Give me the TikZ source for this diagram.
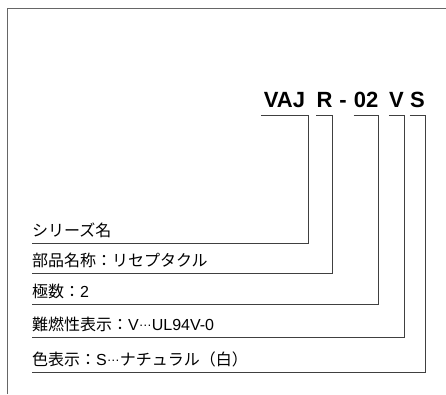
\documentclass[tikz,border=0pt]{standalone}
\usepackage{fontspec}
\newfontfamily\jpfont{Noto Sans CJK JP}
\newfontfamily\codefont{Liberation Sans}
\newcommand\middots{{\codefont\raisebox{0.3em}{\fontsize{13}{13}\selectfont …}}}
\usetikzlibrary{positioning}

\begin{document}
\begin{tikzpicture}[x=1pt,y=-1pt]
  \tikzset{
    part/.style={
      anchor=base,
      inner xsep=0pt,
      inner ysep=8pt,
      text depth=0pt,
      font=\codefont\fontsize{22}{22}\selectfont\bfseries
    },
    desc/.style={
      anchor=south west,
      inner xsep=0pt,
      inner ysep=4pt,
      text depth=2pt,
      font=\jpfont\fontsize{16}{16}\selectfont
    },
    line/.style={
      draw,
      line width=0.9pt,
      black!75
    }
  }
  \useasboundingbox (0,0) rectangle (446,394);

  \draw[line, black!60] (7.5,394) -- (7.5,8) -- (446,8);

  \node[part, minimum width=47] (series) at (284.5,107) {VAJ};
  \node[part, minimum width=15] (kind) at (324.5,107) {R};
  \node[part] (dash) at (343,107) {-};
  \node[part, minimum width=24] (poles) at (366,107) {02};
  \node[part, minimum width=15] (flame) at (396.5,107) {V};
  \node[part, minimum width=15] (colour) at (417.5,107) {S};

  \node[desc] (seriesname) at (32,243) {シリーズ名};
  \node[desc] (kindname) at (32,273) {部品名称：リセプタクル};
  \node[desc] (polesname) at (32,304) {極数：{\codefont 2}};
  \node[desc] (flamename) at (32,337) {難燃性表示：{\codefont V}\middots{\codefont UL94V-0}};
  \node[desc] (colourname) at (32,372) {色表示：{\codefont S}\middots ナチュラル（白）};

  \draw[line] (series.south west) -- (series.south east) |- (seriesname.south west);
  \draw[line] (kind.south west) -- (kind.south east) |- (kindname.south west);
  \draw[line] (poles.south west) -- (poles.south east) |- (polesname.south west);
  \draw[line] (flame.south west) -- (flame.south east) |- (flamename.south west);
  \draw[line] (colour.south west) -- (colour.south east) |- (colourname.south west);

\end{tikzpicture}
\end{document}
